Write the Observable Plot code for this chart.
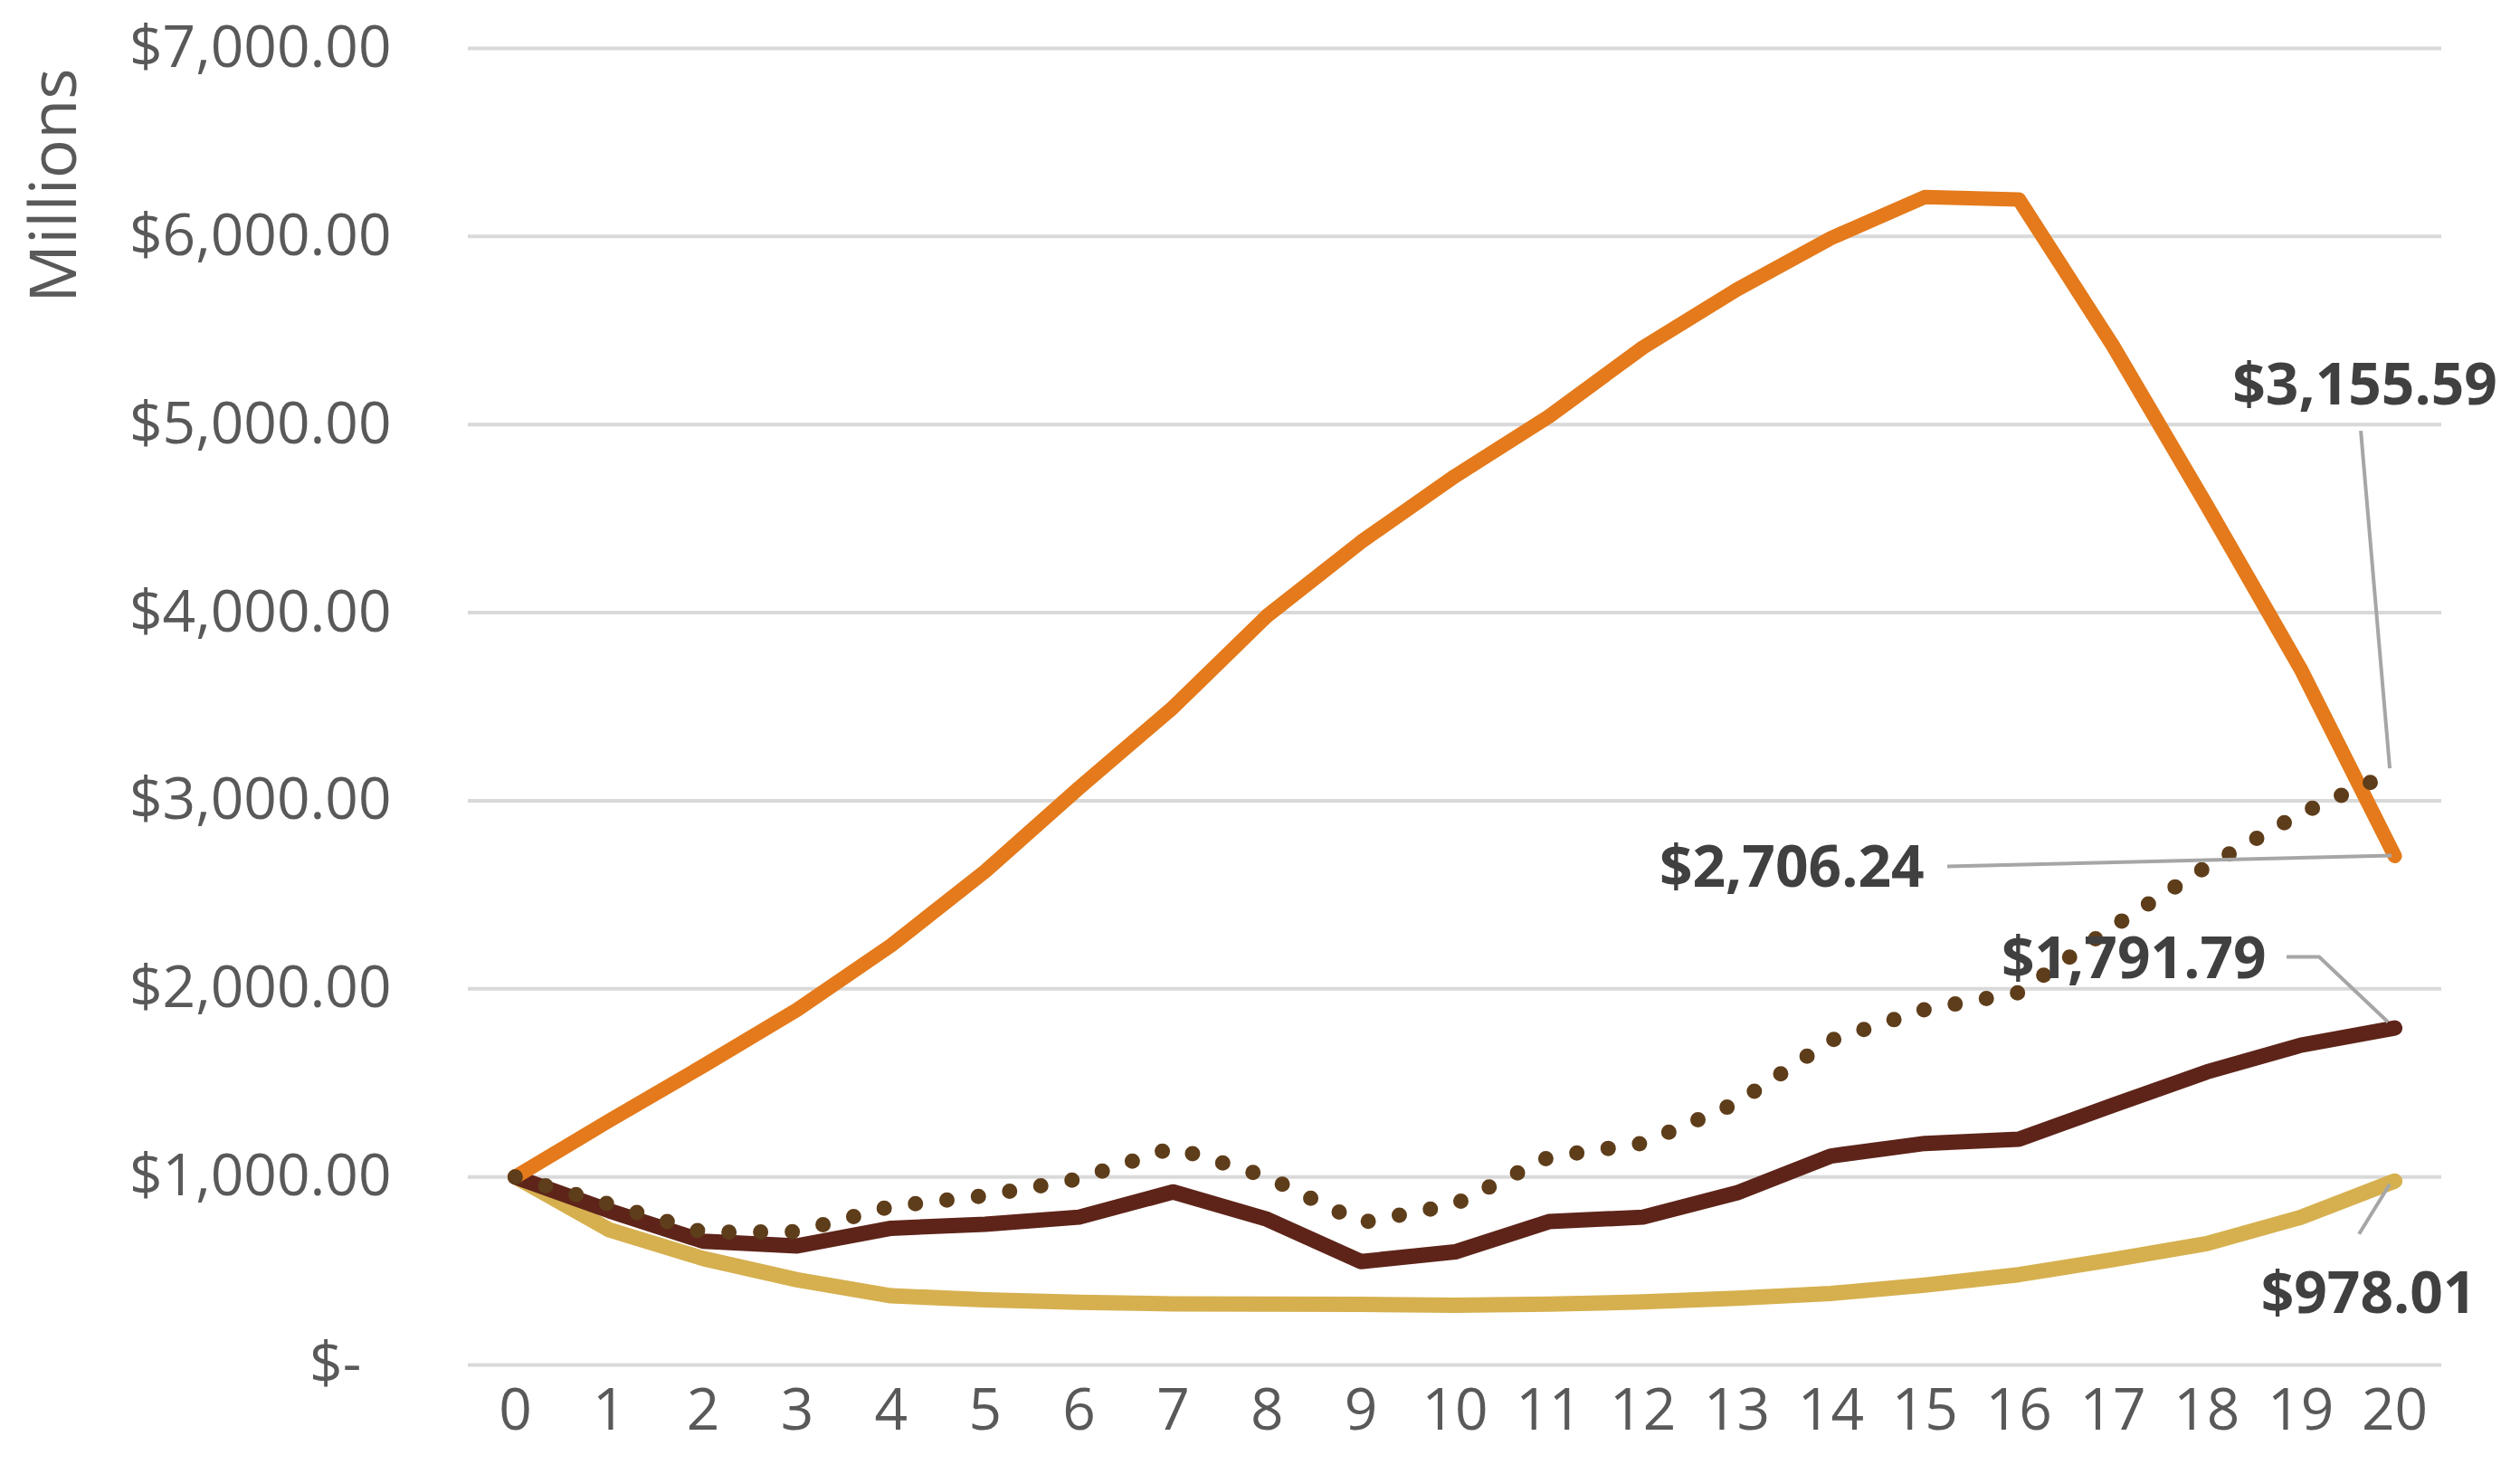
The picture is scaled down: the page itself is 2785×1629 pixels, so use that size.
<!DOCTYPE html>
<html><head><meta charset="utf-8">
<script src="https://cdn.jsdelivr.net/npm/d3@7"></script>
<script src="https://cdn.jsdelivr.net/npm/@observablehq/plot@0.6"></script>
<style>html,body{margin:0;padding:0;background:#fff;} svg{display:block}</style>
</head><body><div id="chart"></div>
<script>
const years = [0,1,2,3,4,5,6,7,8,9,10,11,12,13,14,15,16,17,18,19,20];
const orangeSeries = [1000,1299,1590,1889,2231,2624,3068,3496,3983,4376,4726,5043,5410,5718,5991,6210,6197,5420,4570,3700,2706.24];
const dottedSeries = [1000,855,706,708,843,900,989,1156,1000,756,855,1105,1179,1393,1726,1890,1980,2330,2650,2932,3155.59];
const maroonSeries = [1000,820,658,633,727,748,786,920,775,550,601,762,786,915,1111,1178,1200,1381,1558,1700,1791.79];
const goldSeries   = [1000,719,566,453,368,346,333,325,323,322,318,323,335,355,380,425,480,560,645,785,978.01];
const yTicks = [0,1000,2000,3000,4000,5000,6000,7000];
const endLabels = ["$3,155.59","$2,706.24","$1,791.79","$978.01"];

const W = 2785, H = 1629;
const FONT = "'Open Sans', 'Noto Sans', sans-serif";
const rows = (arr) => years.map((yr, i) => ({year: yr, value: arr[i]}));
const lineOpts = {x: "year", y: "value", strokeLinejoin: "round", strokeLinecap: "round"};

const ends = [
  {year: 20, value: dottedSeries[20], text: endLabels[0]},
  {year: 20, value: orangeSeries[20], text: endLabels[1]},
  {year: 20, value: maroonSeries[20], text: endLabels[2]},
  {year: 20, value: goldSeries[20], text: endLabels[3]}
];
const labelStyle = {x: "year", y: "value", text: "text", fill: "#404040", fontWeight: "bold", fontSize: 64, fontFamily: FONT};

const yFmt = d => d === 0 ? "$-\u00a0\u00a0" : "$" + d3.format(",.2f")(d);

const plot = Plot.plot({
  width: W, height: H,
  marginLeft: 517, marginRight: 87, marginTop: 53, marginBottom: 121,
  style: {fontFamily: FONT, fontSize: "64px", color: "#595959", background: "#fff", overflow: "visible"},
  x: {domain: [-0.5, 20.5], axis: null},
  y: {domain: [0, 7000], axis: null},
  marks: [
    Plot.gridY(yTicks, {stroke: "#D9D9D9", strokeOpacity: 1, strokeWidth: 4}),
    Plot.axisX(years, {tickSize: 0, tickPadding: 26, tickFormat: d => String(d), fontSize: 64, fill: "#595959", label: null}),
    Plot.axisY(yTicks, {tickSize: 0, tickPadding: 85, tickFormat: yFmt, fontSize: 64, fill: "#595959", label: null}),
    Plot.line(rows(goldSeries), {...lineOpts, stroke: "#D6B04F", strokeWidth: 17}),
    Plot.line(rows(maroonSeries), {...lineOpts, stroke: "#5E2419", strokeWidth: 17}),
    Plot.line(rows(orangeSeries), {...lineOpts, stroke: "#E47A1B", strokeWidth: 16}),
    Plot.line(rows(dottedSeries), {...lineOpts, stroke: "#5E3D1A", strokeWidth: 17, strokeDasharray: "0 35"}),
    Plot.text([ends[0]], {...labelStyle, dx: -33, dy: -426, textAnchor: "middle"}),
    Plot.text([ends[1]], {...labelStyle, dx: -520, dy: 14, textAnchor: "end"}),
    Plot.text([ends[2]], {...labelStyle, dx: -142, dy: -76, textAnchor: "end"}),
    Plot.text([ends[3]], {...labelStyle, dx: -29, dy: 125, textAnchor: "middle"})
  ]
});

// leader lines (offsets in px relative to each series' end point)
const sx = plot.scale("x"), sy = plot.scale("y");
const leaders = [
  [[-37,-376],[-5,-3]],
  [[-494,12],[-3,0]],
  [[-119,-78],[-83,-78],[-7,-6]],
  [[-39,59],[-5,4]]
];
const svg = d3.select(plot);
ends.forEach((e, i) => {
  const px = sx.apply(e.year), py = sy.apply(e.value);
  const pts = leaders[i].map(([dx, dy]) => [px + dx, py + dy]);
  svg.append("path")
    .attr("d", d3.line()(pts))
    .attr("fill", "none")
    .attr("stroke", "#A6A6A6")
    .attr("stroke-width", 4);
});
// y axis title
svg.append("text")
  .attr("transform", "translate(59,205) rotate(-90)")
  .attr("text-anchor", "middle")
  .attr("dy", "0.35em")
  .attr("fill", "#595959")
  .attr("font-family", FONT)
  .attr("font-size", 72)
  .text("Millions");

document.getElementById("chart").appendChild(plot);
</script>
</body></html>
